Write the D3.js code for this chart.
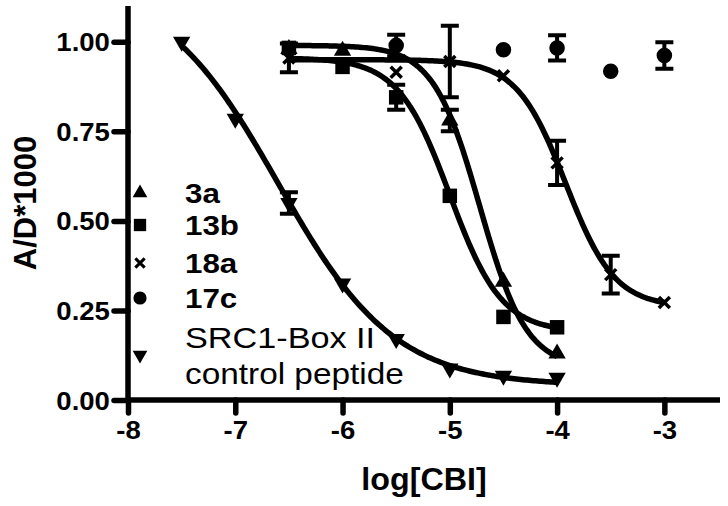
<!doctype html>
<html>
<head>
<script src="https://cdn.jsdelivr.net/npm/d3@7"></script>
</head>
<body style="margin:0px;background:#fff">
<script>

// tick labels
var xTicks = [-8, -7, -6, -5, -4, -3];
var yTicks = [0, 0.25, 0.5, 0.75, 1.0];

// measured points (log concentration, mean A/D*1000, error)
var x3a  = [-6.5, -6, -5, -4.5, -4];
var y3a  = [0.98, 0.975, 0.78, 0.33, 0.13];
var e3a  = [0, 0, 0.03, 0, 0];

var x13b = [-6.5, -6, -5.5, -5, -4.5, -4];
var y13b = [0.983, 0.93, 0.845, 0.57, 0.232, 0.203];
var e13b = [0, 0, 0.035, 0, 0, 0];

var x18a = [-6.5, -5.5, -5, -4.5, -4, -3.5, -3];
var y18a = [0.955, 0.915, 0.945, 0.905, 0.662, 0.35, 0.272];
var e18a = [0.04, 0, 0.1, 0, 0.062, 0.053, 0];

var x17c = [-5.5, -4.5, -4, -3.5, -3];
var y17c = [0.99, 0.978, 0.983, 0.918, 0.962];
var e17c = [0.03, 0, 0.035, 0, 0.037];

var xCtrl = [-7.5, -7, -6.5, -6, -5.5, -5, -4.5, -4];
var yCtrl = [1.00, 0.785, 0.55, 0.325, 0.17, 0.088, 0.068, 0.062];
var eCtrl = [0, 0, 0.03, 0, 0, 0, 0, 0];

// sigmoidal fits: [top, bottom, logIC50, hill, xmin, xmax]
var fit3a   = [0.99, 0.09, -4.72, 2.0, -6.5, -4];
var fit13b  = [0.955, 0.19, -5.0, 1.8, -6.5, -4];
var fit18a  = [0.95, 0.26, -3.92, 1.9, -6.5, -3];
var fitCtrl = [1.17, 0.04, -6.6, 0.8, -7.5, -4];

var w = 728, h = 506;
var svg = d3.select("body").append("svg").attr("width", w).attr("height", h);

var x = d3.scaleLinear().domain([-8, -2.5]).range([128, 718]);
var y = d3.scaleLinear().domain([0, 1.1]).range([400, 6]);

var font = "'Liberation Sans', Arial, sans-serif";

function fitLine(p) {
  var pts = d3.range(p[4], p[5] + 0.0001, 0.02).map(function(v) {
    return [v, p[1] + (p[0] - p[1]) / (1 + Math.pow(10, (v - p[2]) * p[3]))];
  });
  return d3.line().x(function(d){ return x(d[0]); }).y(function(d){ return y(d[1]); })(pts);
}

[fitCtrl, fit3a, fit13b, fit18a].forEach(function(p) {
  svg.append("path").attr("d", fitLine(p))
     .attr("fill", "none").attr("stroke", "#000").attr("stroke-width", 5.5);
});

// marker shapes
var sym = {
  up:     d3.symbol().type(d3.symbolTriangle).size(130)(),
  down:   d3.symbol().type(d3.symbolTriangle).size(130)(),
  square: d3.symbol().type(d3.symbolSquare).size(210)(),
  circle: d3.symbol().type(d3.symbolCircle).size(190)()
};

function drawMarker(g, kind, cx, cy, scale) {
  scale = scale || 1;
  if (kind == "cross") {
    var r = 5.5 * scale;
    g.append("path")
     .attr("d", "M" + (cx - r) + "," + (cy - r) + "L" + (cx + r) + "," + (cy + r) +
                "M" + (cx - r) + "," + (cy + r) + "L" + (cx + r) + "," + (cy - r))
     .attr("stroke", "#000").attr("stroke-width", 3.5 * scale);
  } else {
    var rot = kind == "down" ? " rotate(180)" : "";
    g.append("path").attr("d", sym[kind])
     .attr("transform", "translate(" + cx + "," + cy + ") scale(" + scale + ")" + rot)
     .attr("fill", "#000");
  }
}

var series = [
  {xs: xCtrl, ys: yCtrl, es: eCtrl, kind: "down"},
  {xs: x3a,   ys: y3a,   es: e3a,   kind: "up"},
  {xs: x13b,  ys: y13b,  es: e13b,  kind: "square"},
  {xs: x18a,  ys: y18a,  es: e18a,  kind: "cross"},
  {xs: x17c,  ys: y17c,  es: e17c,  kind: "circle"}
];

var marks = svg.append("g");
series.forEach(function(s) {
  s.xs.forEach(function(v, i) {
    var cx = x(v), cy = y(s.ys[i]), e = s.es[i];
    if (e > 0) {
      var y0 = y(s.ys[i] + e), y1 = y(s.ys[i] - e);
      marks.append("path")
        .attr("d", "M" + cx + "," + y0 + "V" + y1 +
                   "M" + (cx - 9) + "," + y0 + "H" + (cx + 9) +
                   "M" + (cx - 9) + "," + y1 + "H" + (cx + 9))
        .attr("stroke", "#000").attr("stroke-width", 4).attr("fill", "none");
    }
    drawMarker(marks, s.kind, cx, cy);
  });
});

// axes
var xAxis = svg.append("g").attr("transform", "translate(0,400)")
  .call(d3.axisBottom(x).tickValues(xTicks).tickSize(13).tickPadding(8).tickFormat(d3.format("d")));
var yAxis = svg.append("g").attr("transform", "translate(128,0)")
  .call(d3.axisLeft(y).tickValues(yTicks).tickSize(14).tickPadding(4).tickFormat(d3.format(".2f")));

[xAxis, yAxis].forEach(function(a) {
  a.select(".domain").attr("stroke-width", 5.5).attr("d",
    a === xAxis ? "M128,0H720" : "M0,6V400");
  a.selectAll(".tick line").attr("stroke-width", 5.5).attr("stroke-linecap", "round");
  a.selectAll("text").attr("font-family", font).attr("font-weight", "bold")
   .attr("font-size", 25).attr("fill", "#000").attr("transform", "scale(1.1,1)");
});
xAxis.selectAll("text").text(function(d){ return d3.format("d")(d).replace("−", "-"); });
yAxis.selectAll("text").attr("dy", "0.36em").attr("x", -16.5);

svg.append("text").attr("transform", "translate(424,490) scale(1.04,1)").attr("text-anchor", "middle")
   .attr("font-family", font).attr("font-weight", "bold").attr("font-size", 31)
   .text("log[CBI]");
svg.append("text").attr("transform", "translate(36,203) rotate(-90)").attr("text-anchor", "middle")
   .attr("font-family", font).attr("font-weight", "bold").attr("font-size", 31)
   .text("A/D*1000");

// legend
var legend = [
  {kind: "up",     label: "3a",  y: 193},
  {kind: "square", label: "13b", y: 225},
  {kind: "cross",  label: "18a", y: 263},
  {kind: "circle", label: "17c", y: 298}
];
var lg = svg.append("g");
legend.forEach(function(d) {
  drawMarker(lg, d.kind, 140, d.y, 0.85);
  lg.append("text").attr("transform", "translate(185," + d.y + ") scale(1.12,1)").attr("dy", "0.36em")
    .attr("font-family", font).attr("font-weight", "bold").attr("font-size", 28)
    .text(d.label);
});
drawMarker(lg, "down", 140, 355, 0.85);
lg.append("text").attr("transform", "translate(185,348) scale(1.18,1)").attr("font-family", font).attr("font-size", 29)
  .text("SRC1-Box II");
lg.append("text").attr("transform", "translate(185,384) scale(1.15,1)").attr("font-family", font).attr("font-size", 29)
  .text("control peptide");

</script>
</body>
</html>
